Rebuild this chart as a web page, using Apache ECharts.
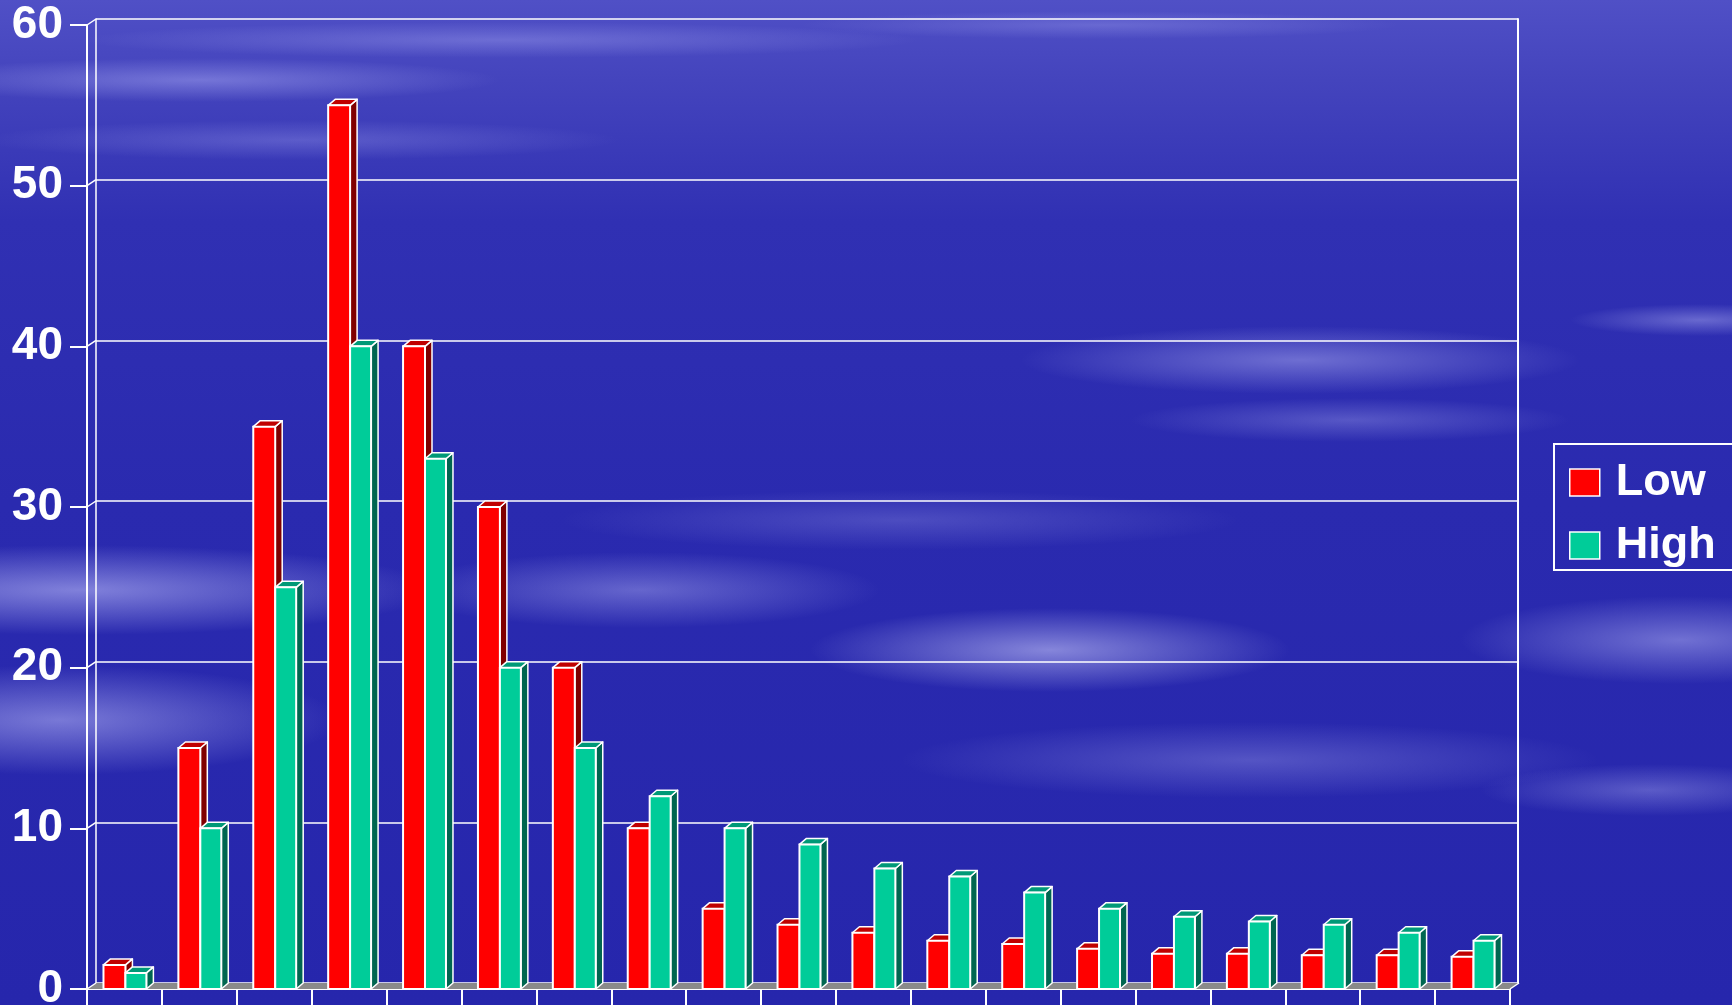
<!DOCTYPE html>
<html><head><meta charset="utf-8">
<script src="https://cdn.jsdelivr.net/npm/echarts@6/dist/echarts.min.js"></script>
<style>
html,body{margin:0;padding:0;width:1732px;height:1005px;overflow:hidden;background:#2828ad;}
#bg{position:absolute;left:0;top:0;width:1732px;height:1005px;
background:
 radial-gradient(ellipse 300px 22px at 200px 80px, rgba(190,190,255,0.4), rgba(190,190,255,0) 100%),
 radial-gradient(ellipse 420px 18px at 500px 40px, rgba(190,190,255,0.3), rgba(190,190,255,0) 100%),
 radial-gradient(ellipse 320px 20px at 300px 140px, rgba(190,190,255,0.25), rgba(190,190,255,0) 100%),
 radial-gradient(ellipse 300px 14px at 1100px 25px, rgba(190,190,255,0.25), rgba(190,190,255,0) 100%),
 radial-gradient(ellipse 360px 45px at 80px 590px, rgba(200,200,255,0.55), rgba(200,200,255,0) 100%),
 radial-gradient(ellipse 280px 55px at 60px 720px, rgba(200,200,255,0.5), rgba(200,200,255,0) 100%),
 radial-gradient(ellipse 240px 38px at 640px 590px, rgba(200,200,255,0.38), rgba(200,200,255,0) 100%),
 radial-gradient(ellipse 240px 42px at 1050px 650px, rgba(210,210,255,0.55), rgba(210,210,255,0) 100%),
 radial-gradient(ellipse 340px 30px at 900px 520px, rgba(200,200,255,0.22), rgba(200,200,255,0) 100%),
 radial-gradient(ellipse 280px 34px at 1300px 360px, rgba(200,200,255,0.42), rgba(200,200,255,0) 100%),
 radial-gradient(ellipse 220px 22px at 1350px 420px, rgba(200,200,255,0.28), rgba(200,200,255,0) 100%),
 radial-gradient(ellipse 350px 38px at 1250px 760px, rgba(200,200,255,0.28), rgba(200,200,255,0) 100%),
 radial-gradient(ellipse 220px 44px at 1680px 640px, rgba(200,200,255,0.45), rgba(200,200,255,0) 100%),
 radial-gradient(ellipse 130px 16px at 1700px 320px, rgba(200,200,255,0.38), rgba(200,200,255,0) 100%),
 radial-gradient(ellipse 170px 26px at 1650px 790px, rgba(200,200,255,0.32), rgba(200,200,255,0) 100%),
 linear-gradient(to bottom, #5050c6 0%, #4444bd 8%, #3030b3 22%, #2a2aaf 50%, #2626ac 100%);
}
#chart{position:absolute;left:0;top:0;width:1732px;height:1005px;}
</style></head>
<body><div id="bg"></div><div id="chart"></div>
<script>
const categories = ['1','2','3','4','5','6','7','8','9','10','11','12','13','14','15','16','17','18','19'];
const lowValues  = [1.5, 15, 35, 55, 40, 30, 20, 10, 5, 4, 3.5, 3, 2.8, 2.5, 2.2, 2.2, 2.1, 2.1, 2];
const highValues = [1, 10, 25, 40, 33, 20, 15, 12, 10, 9, 7.5, 7, 6, 5, 4.5, 4.2, 4, 3.5, 3];
const yTicks = [0, 10, 20, 30, 40, 50, 60];

const chart = echarts.init(document.getElementById('chart'), null, {renderer:'canvas'});
const WDX = 9, WDY = -6;   // wall depth
const BDX = 7, BDY = -6;   // bar depth

function barRenderer(fl, fr, front, top, side) {
  return function(params, api) {
    const idx = api.value(0), v = api.value(1);
    const base = api.coord([idx, 0]);
    const tp = api.coord([idx, v]);
    const band = api.size([1, 0])[0];
    const x0 = base[0] + band * fl, x1 = base[0] + band * fr;
    const y0 = base[1], y1 = tp[1];
    return {type:'group', children:[
      {type:'polygon', shape:{points:[[x1,y0],[x1+BDX,y0+BDY],[x1+BDX,y1+BDY],[x1,y1]]}, style:{fill:side, stroke:'#fff', lineWidth:1.5, lineJoin:'round'}},
      {type:'polygon', shape:{points:[[x0,y1],[x1,y1],[x1+BDX,y1+BDY],[x0+BDX,y1+BDY]]}, style:{fill:top, stroke:'#fff', lineWidth:1.5, lineJoin:'round'}},
      {type:'rect', shape:{x:x0, y:y1, width:x1-x0, height:y0-y1}, style:{fill:front, stroke:'#fff', lineWidth:2}}
    ]};
  };
}

function frameRenderer(params, api) {
  const v = api.value(1);
  const band = api.size([1, 0])[0];
  const p = api.coord([0, v]);
  const xl = p[0] - band / 2;
  const children = [
    {type:'line', shape:{x1:xl, y1:p[1], x2:xl+WDX, y2:p[1]+WDY}, style:{stroke:'#fff', lineWidth:1.5}}
  ];
  if (v === 0) {
    const pr = api.coord([categories.length - 1, 0]);
    const xr = pr[0] + band / 2;
    children.unshift({type:'polygon', shape:{points:[[xl,p[1]],[xr,p[1]],[xr+WDX,p[1]+WDY],[xl+WDX,p[1]+WDY]]}, style:{fill:'#8a8a8a'}});
    children.push({type:'line', shape:{x1:xr, y1:p[1], x2:xr+WDX, y2:p[1]+WDY}, style:{stroke:'#fff', lineWidth:1.5}});
  }
  return {type:'group', children};
}

const option = {
  backgroundColor: 'transparent',
  animation: false,
  grid: [
    {left: 87, right: 222, top: 25, bottom: 16, outerBoundsMode:'none', containLabel:false},
    {left: 96, right: 214, top: 19, bottom: 22, outerBoundsMode:'none', containLabel:false}
  ],
  xAxis: [
    {type:'category', gridIndex:0, data:categories,
     axisLine:{show:true, lineStyle:{color:'#fff', width:2}},
     axisTick:{show:true, interval:0, length:20, lineStyle:{color:'#fff', width:2}},
     axisLabel:{show:false}, splitLine:{show:false}},
    {type:'category', gridIndex:1, data:categories, show:false}
  ],
  yAxis: [
    {type:'value', gridIndex:0, min:0, max:60, interval:10,
     axisLine:{show:true, lineStyle:{color:'#fff', width:2}},
     axisTick:{show:true, length:17, lineStyle:{color:'#fff', width:2}},
     axisLabel:{color:'#fff', fontSize:46, fontWeight:'bold', fontFamily:'Liberation Sans, Arial, sans-serif', margin:24},
     splitLine:{show:false}},
    {type:'value', gridIndex:1, min:0, max:60, interval:10,
     axisLine:{show:true, lineStyle:{color:'#fff', width:1.5}},
     axisTick:{show:false}, axisLabel:{show:false},
     splitLine:{show:true, lineStyle:{color:'#fff', width:1.5}}},
    {type:'value', gridIndex:1, min:0, max:60, interval:10, position:'right',
     axisLine:{show:true, lineStyle:{color:'#fff', width:2}},
     axisTick:{show:false}, axisLabel:{show:false}, splitLine:{show:false}}
  ],
  legend: {
    data:[{name:'Low', icon:'rect'}, {name:'High', icon:'rect'}],
    orient:'vertical', left:1554, top:444,
    itemWidth:30, itemHeight:27, itemGap:18,
    padding:[16, 40, 2, 15],
    borderColor:'#fff', borderWidth:2,
    itemStyle:{borderColor:'#fff', borderWidth:1.5},
    textStyle:{color:'#fff', fontSize:45, fontWeight:'bold', fontFamily:'Liberation Sans, Arial, sans-serif', padding:[0,0,0,11]}
  },
  series: [
    {type:'custom', name:'frame', xAxisIndex:0, yAxisIndex:0, z:1,
     data: yTicks.map(v => [0, v]), encode:{x:0, y:1},
     renderItem: frameRenderer, silent:true},
    {type:'custom', name:'Low', xAxisIndex:0, yAxisIndex:0, z:2,
     itemStyle:{color:'#ff0000'},
     data: lowValues.map((v, i) => [i, v]), encode:{x:0, y:1},
     renderItem: barRenderer(-0.28, 0.013, '#ff0000', '#c00000', '#800000')},
    {type:'custom', name:'High', xAxisIndex:0, yAxisIndex:0, z:3,
     itemStyle:{color:'#00cc99'},
     data: highValues.map((v, i) => [i, v]), encode:{x:0, y:1},
     renderItem: barRenderer(0.013, 0.293, '#00cc99', '#009977', '#006650')}
  ]
};
chart.setOption(option);
</script>
</body></html>
